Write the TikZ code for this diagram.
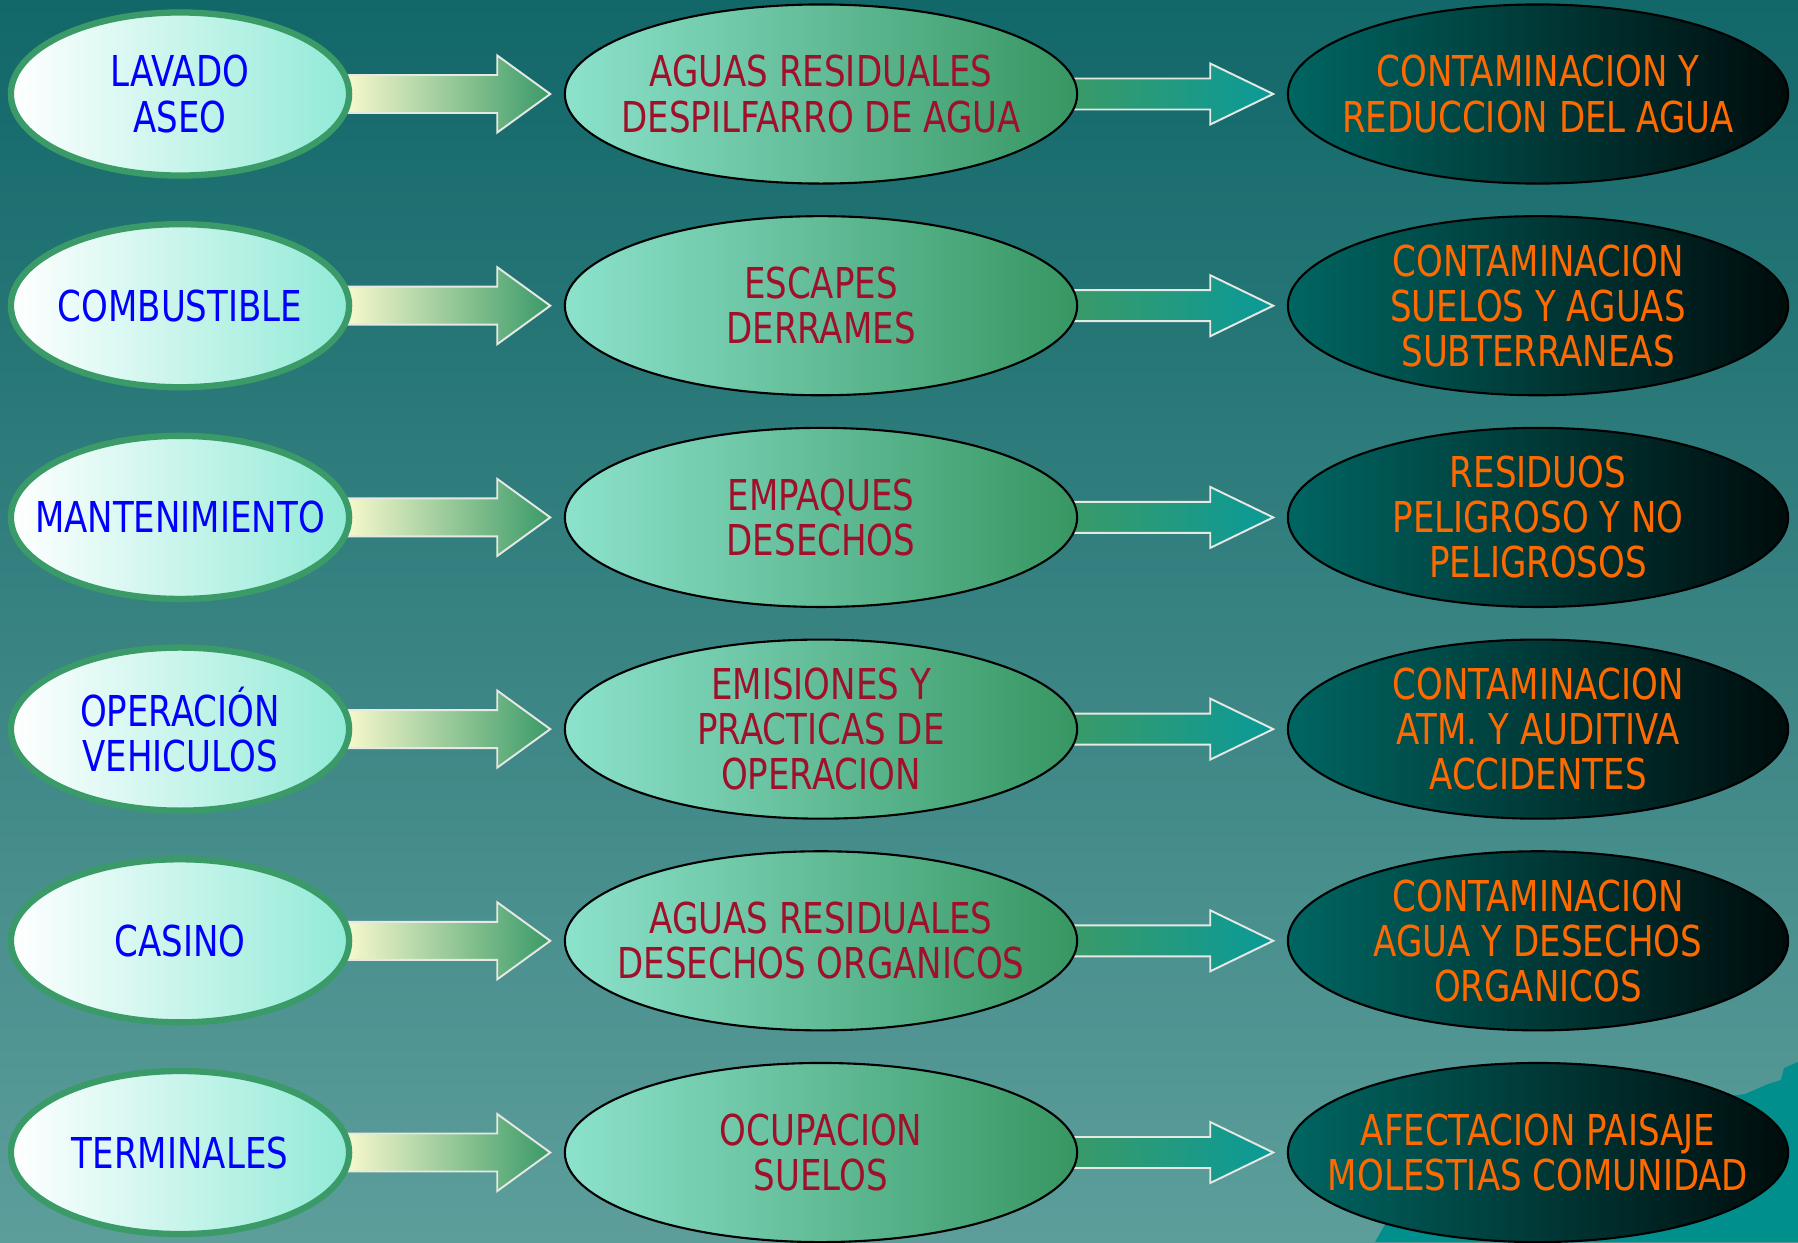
\documentclass[tikz,border=0pt]{standalone}
\usepackage{fontspec}
\setmainfont{DejaVu Sans}[FakeStretch=0.8]
\usepackage{tikz}
\usetikzlibrary{shapes, calc, math}
\newcommand\rowgap{211.7}
\newcommand\boxfont{\fontsize{12.1}{12.8}\selectfont}

\definecolor{bgtop}{RGB}{18,103,105}
\definecolor{bgbot}{RGB}{93,158,155}
\definecolor{blobteal}{RGB}{0,143,140}
\definecolor{srcedge}{RGB}{58,154,104}
\definecolor{srcright}{RGB}{145,234,215}
\definecolor{effleft}{RGB}{140,226,204}
\definecolor{effright}{RGB}{55,150,98}
\definecolor{impleft}{RGB}{0,102,98}
\definecolor{impright}{RGB}{0,12,12}
\definecolor{yellowish}{RGB}{250,250,205}
\definecolor{arrowtwo}{RGB}{10,154,152}
\definecolor{effred}{RGB}{160,16,42}
\definecolor{imporange}{RGB}{255,106,0}

\pgfdeclarelayer{back}
\pgfsetlayers{back,main}

\tikzset{
  srcnode/.style={ellipse, draw=srcedge, line width=1.8pt, inner sep=0pt,
    left color=white, right color=srcright, minimum width=3.38cm, minimum height=1.63cm},
  effnode/.style={ellipse, draw=black, line width=0.6pt, inner sep=0pt,
    left color=effleft, right color=effright, minimum width=5.12cm, minimum height=1.79cm},
  impnode/.style={ellipse, draw=black, line width=0.6pt, inner sep=0pt,
    left color=impleft, right color=impright, minimum width=5.00cm, minimum height=1.79cm},
  srctext/.style={text=blue, align=center, font=\boxfont},
  efftext/.style={text=effred, align=center, font=\boxfont},
  imptext/.style={text=imporange, align=center, font=\boxfont},
  flowone/.style={draw={rgb,255:red,230;green,232;blue,228}, line width=0.55pt,
    left color=yellowish, right color=srcedge},
  flowtwo/.style={draw={rgb,255:red,230;green,232;blue,228}, line width=0.55pt,
    left color=srcedge, right color=arrowtwo}
}

\begin{document}
\begin{tikzpicture}[x=0.01cm, y=-0.01cm]

\tikzmath{
  \xsrc = 180; \xeff = 821; \ximp = 1538;
  \ytop = 94;
}

\begin{pgfonlayer}{back}
\shade[top color=bgtop, bottom color=bgbot] (0,0) rectangle (1798,1242);
% teal patch in the lower right corner
\fill[blobteal] (1375,1242) -- (1392,1212) -- (1430,1190) -- (1520,1150)
  -- (1700,1100) -- (1745,1094) -- (1768,1084) -- (1781,1080) -- (1784,1068)
  -- (1798,1062) -- (1798,1242) -- cycle;
\end{pgfonlayer}
\useasboundingbox (0,0) rectangle (1798,1242);

\foreach \i/\src/\eff/\imp in {
  1/LAVADO\\ASEO/AGUAS RESIDUALES\\DESPILFARRO DE AGUA/CONTAMINACION Y\\REDUCCION DEL AGUA,
  2/COMBUSTIBLE/ESCAPES\\DERRAMES/CONTAMINACION\\SUELOS Y AGUAS\\SUBTERRANEAS,
  3/MANTENIMIENTO/EMPAQUES\\DESECHOS/RESIDUOS\\PELIGROSO Y NO\\PELIGROSOS,
  4/OPERACIÓN\\VEHICULOS/EMISIONES Y\\PRACTICAS DE\\OPERACION/CONTAMINACION\\ATM. Y AUDITIVA\\ACCIDENTES,
  5/CASINO/AGUAS RESIDUALES\\DESECHOS ORGANICOS/CONTAMINACION\\AGUA Y DESECHOS\\ORGANICOS,
  6/TERMINALES/OCUPACION\\SUELOS/AFECTACION PAISAJE\\MOLESTIAS COMUNIDAD}{
  \node[srcnode, label={[srctext]center:\src}] (src\i) at (\xsrc, {\ytop + (\i-1)*\rowgap}) {};
  \node[effnode, label={[efftext]center:\eff}] (eff\i) at (\xeff, {\ytop + (\i-1)*\rowgap}) {};
  \node[impnode, label={[imptext]center:\imp}] (imp\i) at (\ximp, {\ytop + (\i-1)*\rowgap}) {};

  \begin{pgfonlayer}{back}
  \draw[flowone] ($(src\i.east)+(-8,-19)$) -- ++(153,0) -- ++(0,-19.5) -- ++(53,38.5)
    -- ++(-53,38.5) -- ++(0,-19.5) -- ++(-153,0) -- cycle;
  \draw[flowtwo] ($(eff\i.east)+(-8,-15.5)$) -- ++(140,0) -- ++(0,-15) -- ++(63,30.5)
    -- ++(-63,30.5) -- ++(0,-15) -- ++(-140,0) -- cycle;
  \end{pgfonlayer}
}

\end{tikzpicture}
\end{document}
